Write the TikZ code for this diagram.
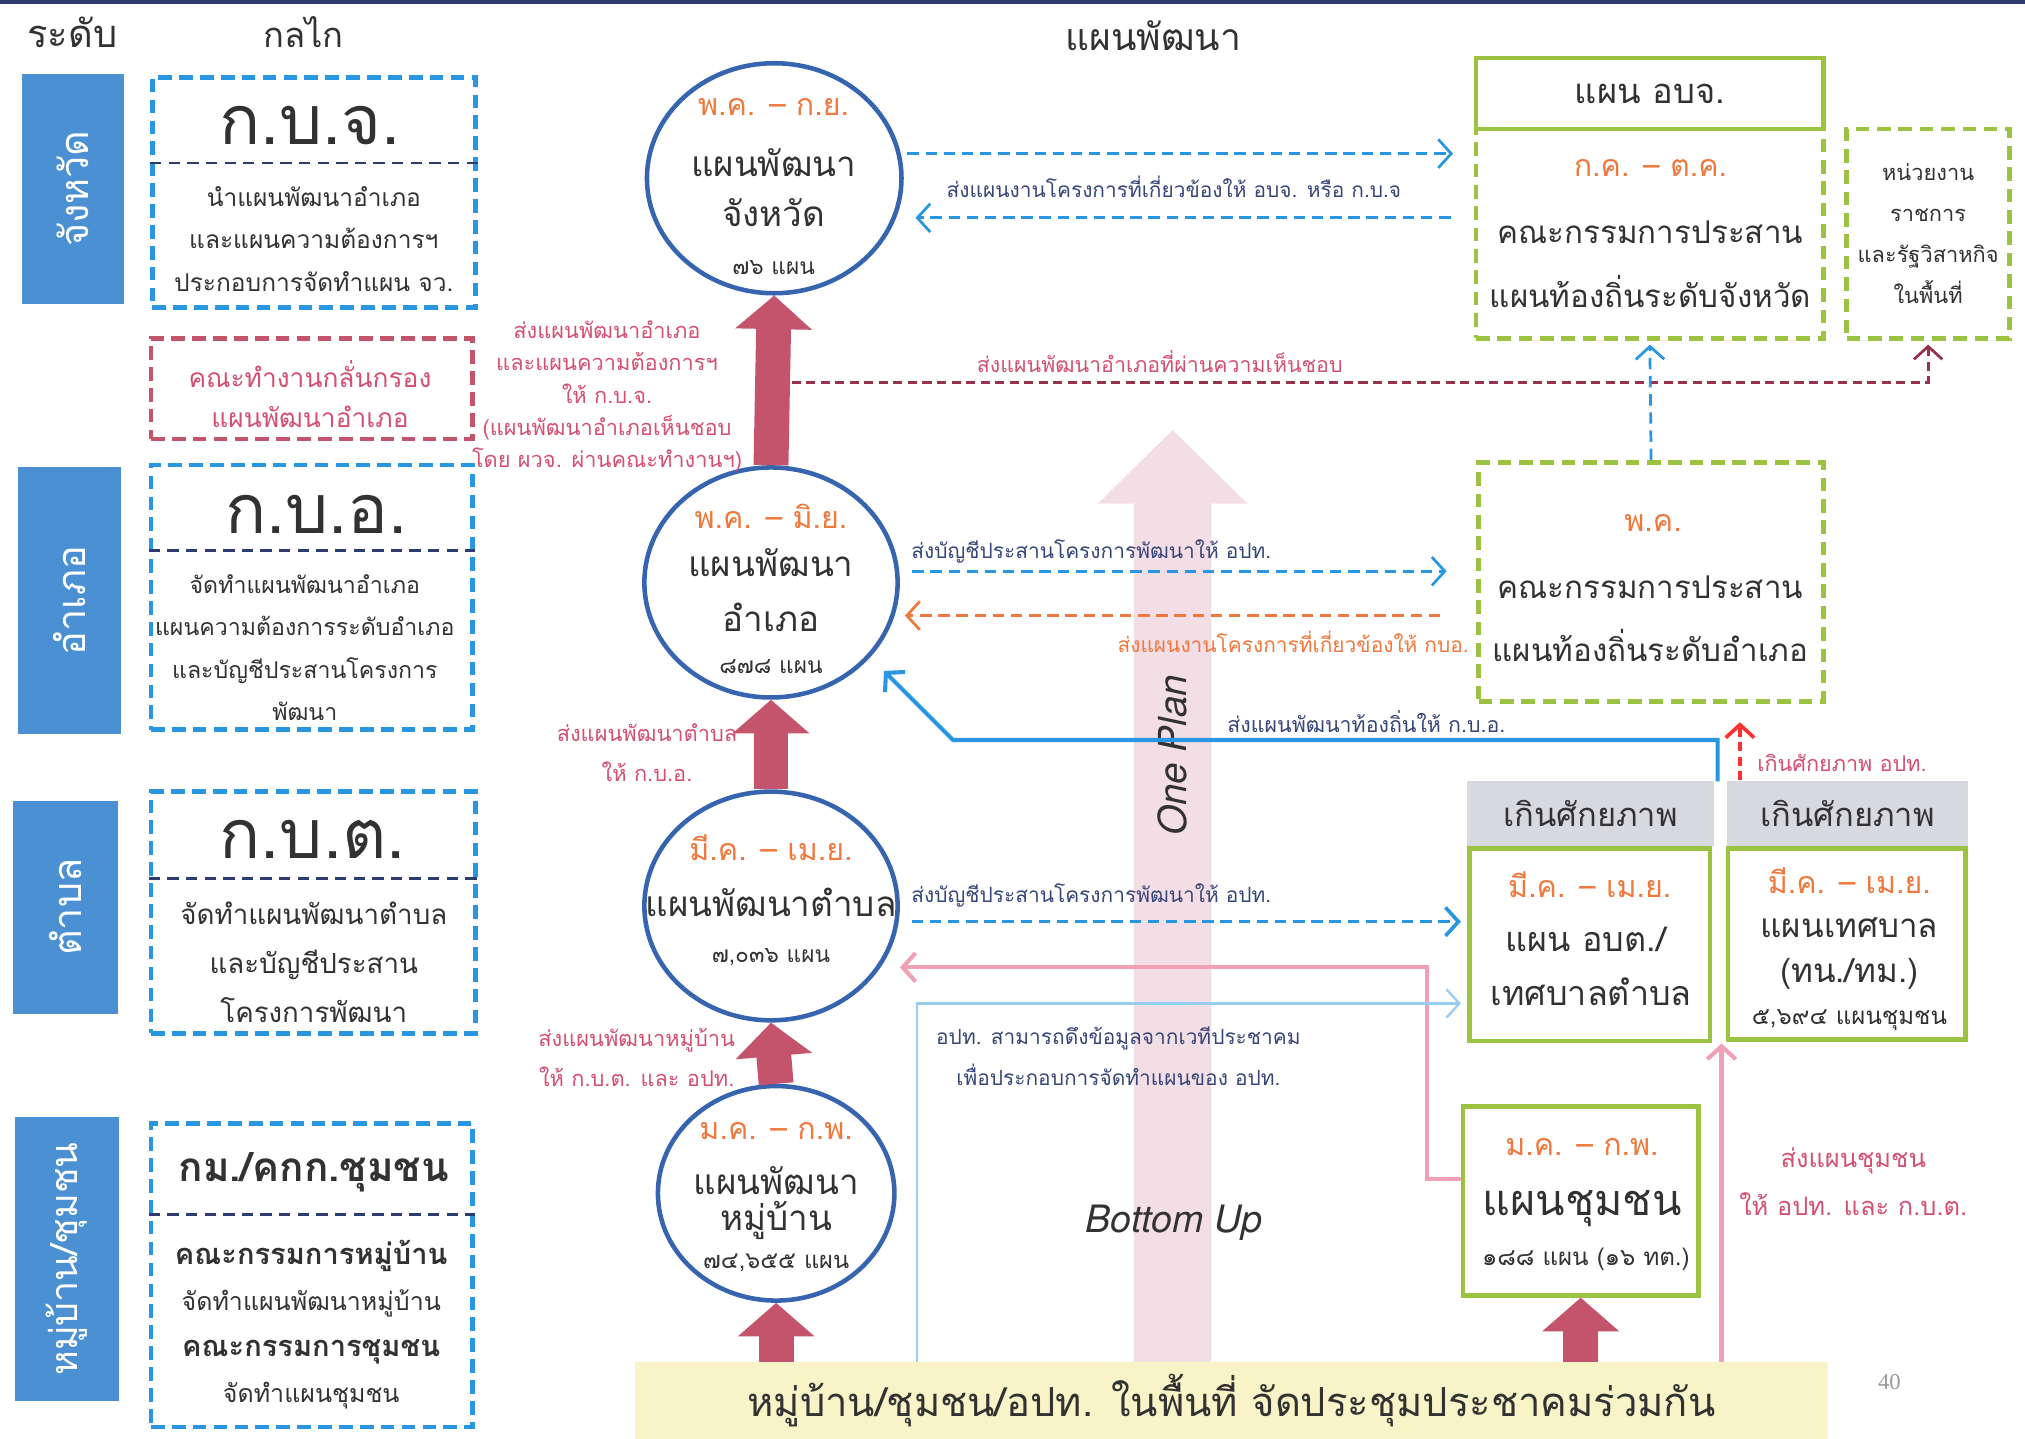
\documentclass[tikz,border=0pt]{standalone}
\usepackage{fontspec}
\setmainfont[Script=Thai]{Loma}
\newfontfamily\latinfont{TeX Gyre Heros}
\newfontfamily\pagefont{Liberation Serif}
\usetikzlibrary{arrows.meta,shapes.geometric,shadows}

\definecolor{navyline}{RGB}{45,60,110}
\definecolor{levelblue}{RGB}{74,144,210}
\definecolor{mechblue}{RGB}{40,150,225}
\definecolor{planblue}{RGB}{55,100,175}
\definecolor{monthorange}{RGB}{240,120,60}
\definecolor{arrowred}{RGB}{196,84,108}
\definecolor{notepink}{RGB}{212,80,115}
\definecolor{maroonline}{RGB}{150,50,75}
\definecolor{boxgreen}{RGB}{155,195,65}
\definecolor{headgray}{RGB}{215,217,222}
\definecolor{baryellow}{RGB}{248,244,200}
\definecolor{paleplan}{RGB}{244,222,229}
\definecolor{dataline}{RGB}{150,205,240}
\definecolor{pinkline}{RGB}{240,160,180}
\definecolor{textdark}{RGB}{50,50,50}
\definecolor{notenavy}{RGB}{55,70,120}

\tikzset{
  headtext/.style={text=textdark, font=\fontsize{8.4}{10}\selectfont},
  levelbox/.style={rotate=90, fill=levelblue, draw=white, line width=0.07cm, text=white, inner sep=0pt,
    drop shadow={shadow xshift=0.03cm, shadow yshift=-0.03cm, opacity=0.2, fill=black},
    font=\fontsize{8.7}{11}\selectfont},
  mechbox/.style={draw=mechblue, line width=1pt, dash pattern=on 3pt off 1.6pt, inner sep=0pt},
  filterbox/.style={draw=arrowred, line width=1pt, dash pattern=on 3pt off 1.6pt, inner sep=0pt},
  divline/.style={draw=navyline, line width=0.6pt, dash pattern=on 2.5pt off 1.6pt},
  mechtitle/.style={text=textdark, font=\fontsize{15}{17}\selectfont},
  mechtext/.style={text=textdark, align=center, font=\fontsize{5.4}{9.3}\selectfont},
  plan/.style={ellipse, draw=planblue, line width=1pt, fill=white, inner sep=0pt},
  month/.style={text=monthorange, font=\fontsize{6.7}{9}\selectfont},
  planname/.style={text=textdark, font=\fontsize{7.7}{9}\selectfont},
  plancount/.style={text=textdark, font=\fontsize{5}{6}\selectfont},
  uparrow/.style={draw=arrowred, line width=0.27cm, -{Triangle[length=0.26cm,width=0.58cm]}},
  rednote/.style={text=notepink, align=center, font=\fontsize{4.8}{7.1}\selectfont},
  navynote/.style={text=notenavy, inner sep=0pt, font=\fontsize{4.6}{6}\selectfont},
  greenbox/.style={draw=boxgreen, line width=1pt, fill=white, inner sep=0pt},
  greendash/.style={draw=boxgreen, line width=1pt, dash pattern=on 3pt off 1.7pt, inner sep=0pt},
  grayhead/.style={fill=headgray, inner sep=0pt, text=textdark, font=\fontsize{7.2}{9}\selectfont},
  boxtext/.style={text=textdark, font=\fontsize{6.9}{9}\selectfont},
  tip/.style={-{Straight Barb[length=0.1cm,width=0.22cm]}},
  azdash/.style={draw=mechblue, line width=0.6pt, dash pattern=on 2.5pt off 1.5pt},
}

\begin{document}
\begin{tikzpicture}[x=0.01cm,y=-0.01cm]
  \useasboundingbox (0,0) rectangle (1568,1114);
  \fill[white] (0,0) rectangle (1568,1114);
  \fill[navyline] (0,0) rectangle (1568,3);

  % headings
  \node[headtext] (hLevel) at (56,25) {ระดับ};
  \node[headtext, font=\fontsize{7.6}{10}\selectfont] (hMech) at (235,25) {กลไก};
  \node[headtext, font=\fontsize{8.2}{10}\selectfont] (hPlan) at (893,28) {แผนพัฒนา};

  % One Plan arrow
  \fill[paleplan] (878,1055) -- (878,390) -- (850,390) -- (908,333) -- (966,390) -- (938,390) -- (938,1055) -- cycle;
  \node[rotate=90, text=textdark, font=\latinfont\itshape\fontsize{8.5}{10}\selectfont] (onePlan) at (908,585) {One Plan};
  \node[text=textdark, font=\latinfont\itshape\fontsize{8.3}{10}\selectfont] (bottomUp) at (909,947) {Bottom Up};

  % levels
  \node[levelbox, minimum width=1.85cm, minimum height=0.86cm] (lvProv) at (56.5,146) {จังหวัด};
  \node[levelbox, minimum width=2.13cm, minimum height=0.87cm] (lvDist) at (54,465) {อำเภอ};
  \node[levelbox, minimum width=1.72cm, minimum height=0.88cm] (lvSub) at (50.5,702.5) {ตำบล};
  \node[levelbox, minimum width=2.27cm, minimum height=0.87cm, font=\fontsize{8.3}{10}\selectfont] (lvVill) at (52,975) {หมู่บ้าน/ชุมชน};

  % mechanisms
  \node[mechbox, minimum width=2.5cm, minimum height=1.78cm] (mProv) at (243,149) {};
  \draw[divline] ([yshift=-0.68cm]mProv.north west) -- ([yshift=-0.68cm,xshift=0.04cm]mProv.north east);
  \node[mechtitle] (mProvT) at (240,97) {ก.บ.จ.};
  \node[mechtext] (mProvB) at (243,185) {นำแผนพัฒนาอำเภอ\\และแผนความต้องการฯ\\ประกอบการจัดทำแผน จว.};

  \node[filterbox, minimum width=2.49cm, minimum height=0.78cm] (mFilter) at (241.5,301) {};
  \node[rednote, font=\fontsize{5.8}{8.8}\selectfont] (mFilterT) at (240,305) {คณะทำงานกลั่นกรอง\\แผนพัฒนาอำเภอ};

  \node[mechbox, minimum width=2.49cm, minimum height=2.05cm] (mDist) at (241.5,462.5) {};
  \draw[divline] ([yshift=-0.68cm]mDist.north west) -- ([yshift=-0.68cm]mDist.north east);
  \node[mechtitle] (mDistT) at (245,398) {ก.บ.อ.};
  \node[mechtext, font=\fontsize{5.1}{9.3}\selectfont] (mDistB) at (236,501.5) {จัดทำแผนพัฒนาอำเภอ\\แผนความต้องการระดับอำเภอ\\และบัญชีประสานโครงการ\\พัฒนา};

  \node[mechbox, minimum width=2.51cm, minimum height=1.87cm] (mSub) at (242.5,706.5) {};
  \draw[divline] ([yshift=-0.69cm]mSub.north west) -- ([yshift=-0.69cm]mSub.north east);
  \node[mechtitle] (mSubT) at (242,650) {ก.บ.ต.};
  \node[mechtext, font=\fontsize{6.1}{10.8}\selectfont] (mSubB) at (243,745) {จัดทำแผนพัฒนาตำบล\\และบัญชีประสาน\\โครงการพัฒนา};

  \node[mechbox, minimum width=2.49cm, minimum height=2.35cm] (mVill) at (241.5,987.5) {};
  \draw[divline] ([yshift=-0.72cm]mVill.north west) -- ([yshift=-0.72cm]mVill.north east);
  \node[mechtitle, font=\bfseries\fontsize{8.9}{12}\selectfont] (mVillT) at (243,908) {กม./คกก.ชุมชน};
  \node[mechtext, font=\fontsize{5.5}{10.15}\selectfont] (mVillB) at (241,1025.5) {{\bfseries\fontsize{6.4}{10.15}\selectfont คณะกรรมการหมู่บ้าน}\\จัดทำแผนพัฒนาหมู่บ้าน\\{\bfseries\fontsize{6.4}{10.15}\selectfont คณะกรรมการชุมชน}\\จัดทำแผนชุมชน};

  % plans (circles)
  \node[plan, minimum width=1.97cm, minimum height=1.78cm] (cProv) at (599.5,138) {};
  \node[month] (cProvM) at (599,83) {พ.ค. – ก.ย.};
  \node[planname] (cProvN) at (599,126) {แผนพัฒนา};
  \node[planname] (cProvS) at (599,165) {จังหวัด};
  \node[plancount] (cProvC) at (599,207) {๗๖ แผน};

  \node[plan, minimum width=1.96cm, minimum height=1.78cm] (cDist) at (597,451) {};
  \node[month] (cDistM) at (597,400) {พ.ค. – มิ.ย.};
  \node[planname] (cDistN) at (597,436) {แผนพัฒนา};
  \node[planname] (cDistS) at (597,478) {อำเภอ};
  \node[plancount] (cDistC) at (597,516) {๘๗๘ แผน};

  \node[plan, minimum width=1.96cm, minimum height=1.77cm] (cSub) at (597,701.5) {};
  \node[month] (cSubM) at (597,656) {มี.ค. – เม.ย.};
  \node[planname] (cSubN) at (597,699) {แผนพัฒนาตำบล};
  \node[plancount] (cSubC) at (597,741) {๗,๐๓๖ แผน};

  \node[plan, minimum width=1.83cm, minimum height=1.66cm] (cVill) at (601,924) {};
  \node[month] (cVillM) at (601,876) {ม.ค. – ก.พ.};
  \node[planname] (cVillN) at (601,914) {แผนพัฒนา};
  \node[planname] (cVillS) at (601,945) {หมู่บ้าน};
  \node[plancount, font=\fontsize{5.2}{6}\selectfont] (cVillC) at (601,978) {๗๔,๖๕๕ แผน};

  % bottom bar
  \node[fill=baryellow, minimum width=9.23cm, minimum height=0.59cm, inner sep=0pt, text=textdark,
    font=\fontsize{8.8}{11}\selectfont] (bar) at (953.5,1084.5) {หมู่บ้าน/ชุมชน/อปท. ในพื้นที่ จัดประชุมประชาคมร่วมกัน};
  \node[text=black!40, font=\pagefont\fontsize{5}{6}\selectfont] (pageNo) at (1463,1070) {40};

  % upward flow
  \draw[uparrow] (cDist.north) -- (cProv.south);
  \draw[uparrow] (cSub.north) -- (cDist.south);
  \draw[uparrow] (cVill.north) -- (cSub.south);
  \draw[uparrow] (cVill.south |- bar.north) -- (cVill.south);

  \node[rednote] (nDist) at (470,307) {ส่งแผนพัฒนาอำเภอ\\และแผนความต้องการฯ\\ให้ ก.บ.จ.\\(แผนพัฒนาอำเภอเห็นชอบ\\โดย ผวจ. ผ่านคณะทำงานฯ)};
  \node[rednote, font=\fontsize{4.8}{8.8}\selectfont] (nSub) at (501,583) {ส่งแผนพัฒนาตำบล\\ให้ ก.บ.อ.};
  \node[rednote, font=\fontsize{4.8}{8.8}\selectfont] (nVill) at (493,819) {ส่งแผนพัฒนาหมู่บ้าน\\ให้ ก.บ.ต. และ อปท.};

  % province committee
  \node[greendash, minimum width=2.69cm, minimum height=1.62cm] (rProv) at (1277.5,181) {};
  \node[greenbox, minimum width=2.69cm, minimum height=0.55cm, text=textdark,
    font=\fontsize{7.6}{9}\selectfont] (rProvH) at (1277.5,72.5) {แผน อบจ.};
  \node[month] (rProvM) at (1278,130) {ก.ค. – ต.ค.};
  \node[boxtext] (rProvN) at (1278,180) {คณะกรรมการประสาน};
  \node[boxtext] (rProvS) at (1278,226) {แผนท้องถิ่นระดับจังหวัด};

  \node[greendash, minimum width=1.26cm, minimum height=1.62cm] (rAgency) at (1493,181) {};
  \node[text=textdark, align=center, font=\fontsize{4.8}{9}\selectfont] (rAgencyT) at (1493,181) {หน่วยงาน\\ราชการ\\และรัฐวิสาหกิจ\\ในพื้นที่};

  % district committee
  \node[greendash, minimum width=2.67cm, minimum height=1.85cm] (rDist) at (1278.5,450.5) {};
  \node[month] (rDistM) at (1280,405) {พ.ค.};
  \node[boxtext] (rDistN) at (1278,455) {คณะกรรมการประสาน};
  \node[boxtext] (rDistS) at (1278,500) {แผนท้องถิ่นระดับอำเภอ};

  % local plans
  \node[grayhead, minimum width=1.91cm, minimum height=0.5cm] (gSub) at (1231.5,630) {เกินศักยภาพ};
  \node[grayhead, minimum width=1.87cm, minimum height=0.5cm] (gMuni) at (1430.5,630) {เกินศักยภาพ};

  \node[greenbox, minimum width=1.86cm, minimum height=1.49cm] (bSub) at (1231,731.5) {};
  \node[month] (bSubM) at (1231,685) {มี.ค. – เม.ย.};
  \node[planname, font=\fontsize{7.5}{9}\selectfont] (bSubN) at (1228,727) {แผน อบต./};
  \node[planname, font=\fontsize{7.5}{9}\selectfont] (bSubS) at (1232,768) {เทศบาลตำบล};

  \node[greenbox, minimum width=1.84cm, minimum height=1.48cm] (bMuni) at (1430,731) {};
  \node[month] (bMuniM) at (1432,682) {มี.ค. – เม.ย.};
  \node[planname, font=\fontsize{7.3}{9}\selectfont] (bMuniN) at (1432,718) {แผนเทศบาล};
  \node[planname, font=\fontsize{7.3}{9}\selectfont] (bMuniS) at (1432,754) {(ทน./ทม.)};
  \node[plancount, font=\fontsize{5.3}{6}\selectfont] (bMuniC) at (1432,790) {๕,๖๙๔ แผนชุมชน};

  \node[greenbox, minimum width=1.82cm, minimum height=1.46cm] (bComm) at (1224,930) {};
  \node[month] (bCommM) at (1225,888) {ม.ค. – ก.พ.};
  \node[planname, font=\fontsize{9.5}{11}\selectfont] (bCommN) at (1225,936) {แผนชุมชน};
  \node[plancount, font=\fontsize{5.3}{6}\selectfont] (bCommC) at (1228,975) {๑๘๘ แผน (๑๖ ทต.)};

  \draw[uparrow] (bComm.south |- bar.north) -- (bComm.south);

  % connectors
  \draw[azdash, tip, shorten <=0.05cm, shorten >=0.16cm] (cProv.11) -- (cProv.11 -| rProv.west);
  \draw[azdash, tip, shorten <=0.18cm, shorten >=0.15cm] (cProv.-18 -| rProv.west) -- (cProv.-18);
  \node[navynote] (nProvPlan) at (909,145) {ส่งแผนงานโครงการที่เกี่ยวข้องให้ อบจ. หรือ ก.บ.จ};

  \coordinate (kApproved) at (613,296);
  \draw[draw=maroonline, line width=0.6pt, dash pattern=on 2pt off 1.2pt, tip, shorten >=0.03cm]
    (kApproved) -- (kApproved -| rAgency.south) -- (rAgency.south);
  \node[text=notepink, font=\fontsize{4.7}{7}\selectfont] (nApproved) at (898,280) {ส่งแผนพัฒนาอำเภอที่ผ่านความเห็นชอบ};

  \draw[azdash, tip, shorten >=0.03cm] (rDist.north) -- (rProv.south);

  \draw[azdash, tip, shorten <=0.1cm, shorten >=0.23cm] (cDist.5) -- (cDist.5 -| rDist.west);
  \node[navynote, anchor=west] (nList1) at (705,427) {ส่งบัญชีประสานโครงการพัฒนาให้ อปท.};
  \draw[draw=monthorange, line width=0.6pt, dash pattern=on 2.5pt off 1.5pt, tip, shorten <=0.28cm, shorten >=0.08cm]
    (cDist.-15 -| rDist.west) -- (cDist.-15);
  \node[text=monthorange, anchor=east, inner sep=0pt, font=\fontsize{4.6}{6}\selectfont] (nDistPlan) at (1138,497) {ส่งแผนงานโครงการที่เกี่ยวข้องให้ กบอ.};

  \coordinate (kLocal) at (1330,605);
  \coordinate (kBend) at (738,573);
  \draw[draw=mechblue, line width=0.9pt, tip, shorten >=0.15cm] (kLocal) |- (kBend) -- (cDist.-37);
  \node[navynote, font=\fontsize{4.7}{6}\selectfont] (nLocal) at (1058,559) {ส่งแผนพัฒนาท้องถิ่นให้ ก.บ.อ.};

  \draw[draw=red!75!pink, line width=0.8pt, dash pattern=on 2pt off 1.2pt, tip] ([xshift=0.11cm]gMuni.north west) -- ++(0,-45);
  \node[text=notepink, anchor=west, inner sep=0pt, font=\fontsize{4.75}{6}\selectfont] (nOver) at (1360,591) {เกินศักยภาพ อปท.};

  \draw[azdash, line width=0.8pt, tip, shorten <=0.1cm, shorten >=0.05cm] (cSub.-7) -- (cSub.-7 -| bSub.west);
  \node[navynote, anchor=west] (nList2) at (705,693) {ส่งบัญชีประสานโครงการพัฒนาให้ อปท.};

  \coordinate (kPinkTop) at (1105,749);
  \coordinate (kPinkLow) at (1105,913);
  \draw[draw=pinkline, line width=0.9pt, tip] (kPinkLow -| bComm.west) -- (kPinkLow) -- (kPinkTop) -- (kPinkTop -| cSub.east);

  \coordinate (kData) at (710,777);
  \draw[draw=dataline, line width=0.5pt, tip, shorten >=0.05cm] (kData |- bar.north) -- (kData) -- (kData -| bSub.west);
  \node[text=notenavy, align=center, font=\fontsize{4.6}{9}\selectfont] (nData) at (866,818) {อปท. สามารถดึงข้อมูลจากเวทีประชาคม\\เพื่อประกอบการจัดทำแผนของ อปท.};

  \coordinate (kComm) at (1333,808);
  \draw[draw=pinkline, line width=0.9pt, tip] (kComm |- bar.north) -- (kComm);
  \node[rednote, font=\fontsize{5.6}{10.5}\selectfont] (nComm) at (1435,915) {ส่งแผนชุมชน\\ให้ อปท. และ ก.บ.ต.};
\end{tikzpicture}
\end{document}
